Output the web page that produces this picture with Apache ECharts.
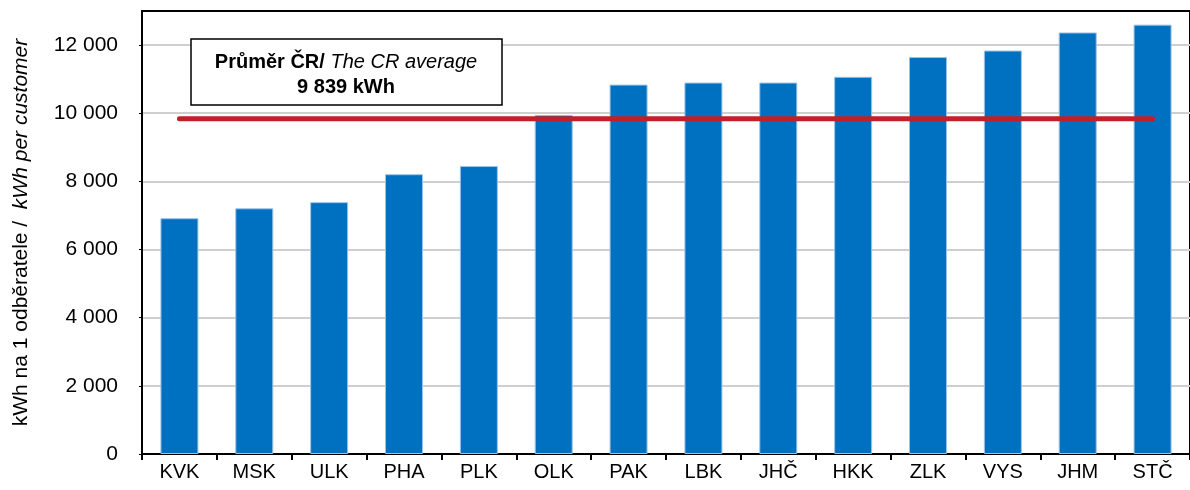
<!DOCTYPE html>
<html>
<head>
<meta charset="utf-8">
<script src="https://cdn.jsdelivr.net/npm/echarts@6/dist/echarts.min.js"></script>
<style>
  html, body { margin: 0; padding: 0; background: #fff; }
  #chart { width: 1190px; height: 490px; }
</style>
</head>
<body>
<div id="chart"></div>
<script>
// kraje - spotřeba na odběratele
const regions = ['KVK', 'MSK', 'ULK', 'PHA', 'PLK', 'OLK', 'PAK', 'LBK', 'JHČ', 'HKK', 'ZLK', 'VYS', 'JHM', 'STČ'];
const consumption = [6920, 7210, 7390, 8210, 8450, 9950, 10840, 10900, 10900, 11070, 11650, 11840, 12370, 12600];
const averageCR = 9839;
const averageLabel = '9 839 kWh';

const font = 'Liberation Sans, Arial, sans-serif';

const chart = echarts.init(document.getElementById('chart'));

const fmt = v => String(v).replace(/\B(?=(\d{3})+(?!\d))/g, ' ');

chart.setOption({
  animation: false,
  grid: {
    left: 142, top: 11, width: 1052, height: 443,
    show: true, borderColor: '#000', borderWidth: 2
  },
  xAxis: {
    type: 'category',
    data: regions,
    axisLine: { lineStyle: { color: '#000', width: 2 } },
    axisTick: { show: true, length: 6, lineStyle: { color: '#000', width: 2 } },
    axisLabel: { color: '#000', fontFamily: font, fontSize: 20, margin: 8 }
  },
  yAxis: {
    type: 'value',
    min: 0, max: 13000, interval: 2000,
    name: '{n|kWh na 1 odběratele /  }{i|kWh per customer}',
    nameLocation: 'middle',
    nameGap: 110,
    nameTextStyle: {
      rich: {
        n: { fontFamily: font, fontSize: 21, color: '#000' },
        i: { fontFamily: font, fontSize: 21, color: '#000', fontStyle: 'italic' }
      }
    },
    axisLine: { show: true, lineStyle: { color: '#000', width: 2 } },
    axisTick: { show: true, length: 3, lineStyle: { color: '#000' } },
    axisLabel: {
      color: '#000', fontFamily: font, fontSize: 21, margin: 24,
      showMaxLabel: false, formatter: fmt
    },
    splitLine: { show: true, showMaxLine: false, lineStyle: { color: '#cfcfcf', width: 2 } }
  },
  series: [
    {
      type: 'bar',
      data: consumption,
      barWidth: 38,
      itemStyle: { color: '#0070c0', borderColor: '#9cc3e6', borderWidth: 1 }
    },
    {
      type: 'line',
      data: regions.map(() => averageCR),
      symbol: 'none',
      z: 5,
      lineStyle: { color: '#c0202a', width: 5, cap: 'round' }
    }
  ],
  graphic: [
    {
      type: 'line',
      shape: { x1: 142, y1: 11, x2: 1194, y2: 11 },
      style: { stroke: '#000', lineWidth: 2 },
      z: 10
    },
    {
      type: 'rect',
      shape: { x: 191, y: 39, width: 311, height: 66 },
      style: { fill: '#fff', stroke: '#000', lineWidth: 1.5 },
      z: 10
    },
    {
      type: 'text',
      x: 346, y: 75,
      z: 11,
      style: {
        text: '{b|Průměr ČR/ }{i|The CR average}\n{b|' + averageLabel + '}',
        align: 'center',
        verticalAlign: 'middle',
        rich: {
          b: { fontFamily: font, fontSize: 20, fontWeight: 'bold', fill: '#000', lineHeight: 25, align: 'center' },
          i: { fontFamily: font, fontSize: 20, fontStyle: 'italic', fill: '#000', lineHeight: 25 }
        }
      }
    }
  ]
});
</script>
</body>
</html>
